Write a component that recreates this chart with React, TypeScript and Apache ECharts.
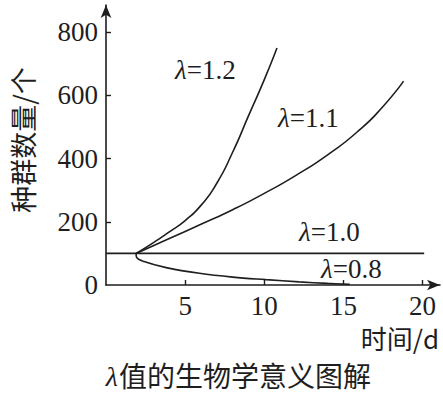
import { useEffect, useRef } from 'react';
import * as echarts from 'echarts';

const xTicks = [5, 10, 15, 20];
const yTicks = [0, 200, 400, 600, 800];

const lambda12: [number, number][] = [
  [1.9, 100], [3, 134], [4, 168], [5, 204], [6, 252], [7, 322], [8, 420], [9, 535], [10, 650], [10.8, 750],
];
const lambda11: [number, number][] = [
  [1.9, 100], [4, 147], [6, 192], [8, 238], [10, 290], [12, 347], [14, 412], [16, 490], [17.5, 565], [18.8, 645],
];
const lambda10: [number, number][] = [
  [0, 100], [20.1, 100],
];
const lambda08: [number, number][] = [
  [1.9, 100], [1.93, 88], [2.4, 74], [3.8, 55], [5.9, 37], [8, 25], [10.1, 17], [12.2, 10], [14, 5], [15.4, 2],
];

const lambdaLabels = [
  { text: '1.2', x: 175, y: 70 },
  { text: '1.1', x: 278, y: 118 },
  { text: '1.0', x: 299, y: 232 },
  { text: '0.8', x: 321, y: 269 },
];

const INK = '#1e1e1e';
const SERIF = '"Liberation Serif", "Times New Roman", serif';
const CJK = '"Noto Sans CJK SC", sans-serif';

export default function App() {
  const ref = useRef<HTMLDivElement>(null);
  useEffect(() => {
    if (!ref.current) return;
    const chart = echarts.init(ref.current, undefined, { renderer: 'svg' });
    const lineSeries = (name: string, data: [number, number][], smooth: number | boolean) => ({
      name,
      type: 'line',
      data,
      smooth,
      showSymbol: false,
      symbol: 'none',
      lineStyle: { color: INK, width: 1.6 },
      z: 3,
    });
    chart.setOption({
      animation: false,
      backgroundColor: '#ffffff',
      grid: { left: 106, right: 3, top: 5, bottom: 109 },
      xAxis: {
        type: 'value',
        min: 0,
        max: 21.1,
        axisLine: {
          show: true,
          symbol: ['none', 'arrow'],
          symbolSize: [8, 13],
          lineStyle: { color: INK, width: 1.6 },
        },
        axisTick: { show: true, inside: true, length: 5, customValues: xTicks, lineStyle: { color: INK, width: 1.4 } },
        axisLabel: { customValues: xTicks, margin: 7, fontSize: 27, fontFamily: SERIF, color: INK },
        splitLine: { show: false },
      },
      yAxis: {
        type: 'value',
        min: 0,
        max: 886,
        axisLine: {
          show: true,
          symbol: ['none', 'arrow'],
          symbolSize: [8, 13],
          lineStyle: { color: INK, width: 1.6 },
        },
        axisTick: { show: true, inside: true, length: 5, customValues: yTicks.slice(1), lineStyle: { color: INK, width: 1.4 } },
        axisLabel: { customValues: yTicks, margin: 8, fontSize: 27, fontFamily: SERIF, color: INK },
        splitLine: { show: false },
      },
      series: [
        lineSeries('λ=1.2', lambda12, 0.6),
        lineSeries('λ=1.1', lambda11, 0.6),
        lineSeries('λ=1.0', lambda10, false),
        lineSeries('λ=0.8', lambda08, 0.4),
      ],
      graphic: [
        ...lambdaLabels.map((l) => ({
          type: 'text',
          x: l.x,
          y: l.y,
          style: {
            text: '{l|λ}=' + l.text,
            font: `27px ${SERIF}`,
            fill: INK,
            align: 'left',
            verticalAlign: 'middle',
            rich: { l: { fontStyle: 'italic', fontSize: 27, fontFamily: SERIF, fill: INK } },
          },
        })),
        {
          type: 'text',
          x: 22,
          y: 140,
          rotation: Math.PI / 2,
          style: { text: '种群数量/个', font: `27px ${CJK}`, fill: INK, align: 'center', verticalAlign: 'middle' },
        },
        {
          type: 'text',
          x: 400,
          y: 337,
          style: { text: '时间/d', font: `26px ${CJK}`, fill: INK, align: 'center', verticalAlign: 'middle' },
        },
        {
          type: 'text',
          x: 118,
          y: 376,
          style: { text: 'λ', font: `italic 28px ${SERIF}`, fill: INK, align: 'right', verticalAlign: 'middle' },
        },
        {
          type: 'text',
          x: 119,
          y: 375,
          style: { text: '值的生物学意义图解', font: `28px ${CJK}`, fill: INK, align: 'left', verticalAlign: 'middle' },
        },
      ],
    });
    return () => chart.dispose();
  }, []);
  return <div ref={ref} style={{ position: 'fixed', left: 0, top: 0, width: 443, height: 394 }} />;
}
